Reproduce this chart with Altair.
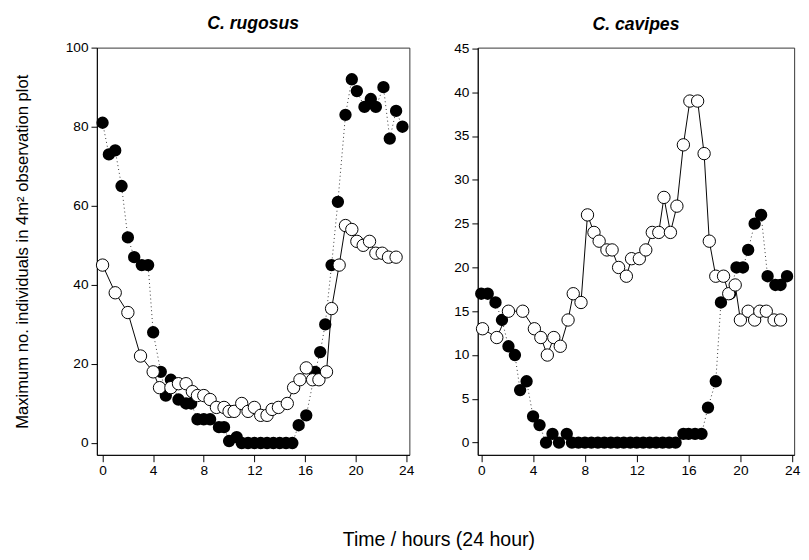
import altair as alt
import pandas as pd

# ---------------- data ----------------
HOUR_TICKS = [0, 4, 8, 12, 16, 20, 24]

# C. rugosus - filled symbols
RUG_F_T = [0, 0.5, 1.0, 1.5, 2.0, 2.5, 3.1, 3.6, 4.0, 4.6,
           5.0, 5.4, 6.0, 6.6, 7.0, 7.5, 8.0, 8.5, 9.2, 9.6,
           10.0, 10.6, 11.0, 11.5, 12.0, 12.5, 13.0, 13.5, 14.0, 14.5,
           15.0, 15.5, 16.1, 16.8, 17.2, 17.6, 18.1, 18.6, 19.2, 19.7,
           20.1, 20.7, 21.2, 21.6, 22.2, 22.7, 23.2, 23.7]
RUG_F_V = [81, 73, 74, 65, 52, 47, 45, 45, 28, 18,
           12, 16, 11, 10, 10, 6, 6, 6, 4, 4,
           0.5, 1.5, 0, 0, 0, 0, 0, 0, 0, 0,
           0, 4.5, 7, 18, 23, 30, 45, 61, 83, 92,
           89, 85, 87, 85, 90, 77, 84, 80]

# C. rugosus - open symbols
RUG_O_T = [0, 1, 2, 3, 4, 4.5, 5.4, 6.0, 6.6, 7.1,
           7.5, 8.0, 8.5, 9.0, 9.6, 10.0, 10.4, 11.0, 11.5, 12.0,
           12.5, 13.0, 13.4, 13.9, 14.6, 15.1, 15.6, 16.1, 16.6, 17.1,
           17.7, 18.1, 18.7, 19.2, 19.7, 20.1, 20.6, 21.1, 21.6, 22.1,
           22.6, 23.2]
RUG_O_V = [45, 38, 33, 22, 18, 14, 14, 15, 15, 13,
           12, 12, 11, 9, 9, 8, 8, 10, 8, 9,
           7, 7, 8.5, 9, 10, 14, 16, 19, 16, 16,
           18, 34, 45, 55, 54, 51, 50, 51, 48, 48,
           47, 47]

# C. cavipes - filled symbols
CAV_F_T = [0, 0.5, 1.1, 1.6, 2.1, 2.6, 3.0, 3.5, 4.0, 4.5,
           5.0, 5.5, 6.0, 6.6, 7.0, 7.5, 8.0, 8.5, 9.0, 9.5,
           10.0, 10.5, 11.0, 11.5, 12.0, 12.5, 13.0, 13.5, 14.0, 14.5,
           15.0, 15.6, 16.0, 16.5, 17.0, 17.5, 18.1, 18.5, 19.2, 19.7,
           20.2, 20.6, 21.1, 21.6, 22.1, 22.7, 23.1, 23.6]
CAV_F_V = [17, 17, 16, 14, 11, 10, 6, 7, 3, 2,
           0, 1, 0, 1, 0, 0, 0, 0, 0, 0,
           0, 0, 0, 0, 0, 0, 0, 0, 0, 0,
           0, 1, 1, 1, 1, 4, 7, 16, 17, 20,
           20, 22, 25, 26, 19, 18, 18, 19]

# C. cavipes - open symbols
CAV_O_T = [0.1, 1.2, 2.1, 3.2, 4.1, 4.6, 5.1, 5.6, 6.1, 6.7,
           7.1, 7.7, 8.2, 8.7, 9.1, 9.7, 10.1, 10.6, 11.2, 11.6,
           12.2, 12.7, 13.2, 13.7, 14.1, 14.6, 15.1, 15.6, 16.1, 16.7,
           17.2, 17.6, 18.1, 18.7, 19.1, 19.6, 20.0, 20.6, 21.1, 21.5,
           22.0, 22.6, 23.1]
CAV_O_V = [13, 12, 15, 15, 13, 12, 10, 12, 11, 14,
           17, 16, 26, 24, 23, 22, 22, 20, 19, 21,
           21, 22, 24, 24, 28, 24, 27, 34, 39, 39,
           33, 23, 19, 19, 17, 18, 14, 15, 14, 15,
           15, 14, 14]

FONT = "Liberation Sans"
Y_TITLE = "Maximum no. individuals in 4m\u00b2 observation plot"


def panel(title, ft, fv, ot, ov, xdom, ydom, yticks, ytitle, width, height):
    df_f = pd.DataFrame({"t": ft, "v": fv})
    df_o = pd.DataFrame({"t": ot, "v": ov})
    common = dict(grid=False, domainColor="black", tickColor="black",
                  labelColor="black", labelFont=FONT, labelFontSize=14,
                  domainWidth=1, tickWidth=1)
    x = alt.X("t:Q",
              scale=alt.Scale(domain=xdom, nice=False, zero=False),
              axis=alt.Axis(values=HOUR_TICKS, title=None, tickSize=7,
                            labelPadding=2, **common))
    yaxis_kw = dict(values=yticks, tickSize=6, labelPadding=3, **common)
    if ytitle:
        yaxis_kw.update(title=ytitle, titlePadding=35, titleFontSize=17,
                        titleFontWeight="normal", titleFont=FONT,
                        titleColor="black")
    else:
        yaxis_kw.update(title=None)
    y = alt.Y("v:Q",
              scale=alt.Scale(domain=ydom, nice=False, zero=False),
              axis=alt.Axis(**yaxis_kw))

    f_line = alt.Chart(df_f).mark_line(
        strokeDash=[1, 3], strokeWidth=1, color="#333333").encode(x=x, y=y)
    f_pts = alt.Chart(df_f).mark_point(
        shape="circle", filled=True, size=160, color="black",
        opacity=1).encode(x=x, y=y)
    o_line = alt.Chart(df_o).mark_line(
        strokeWidth=1, color="black").encode(x=x, y=y)
    o_pts = alt.Chart(df_o).mark_point(
        shape="circle", filled=True, size=160, fill="white",
        stroke="black", strokeWidth=1, opacity=1).encode(x=x, y=y)

    return alt.layer(f_line, f_pts, o_line, o_pts).properties(
        width=width, height=height,
        title=alt.TitleParams(title, fontSize=18, fontStyle="italic",
                              fontWeight="bold", font=FONT, offset=8,
                              anchor="middle", color="black"))


left = panel("C. rugosus", RUG_F_T, RUG_F_V, RUG_O_T, RUG_O_V,
             [-0.45, 24.25], [-3.0, 100], [0, 20, 40, 60, 80, 100],
             Y_TITLE, 320, 417)
right = panel("C. cavipes", CAV_F_T, CAV_F_V, CAV_O_T, CAV_O_V,
              [-0.27, 24.15], [-1.4, 45.1], [0, 5, 10, 15, 20, 25, 30, 35, 40, 45],
              None, 324, 417)

chart = alt.hconcat(left, right, spacing=38).properties(
    padding={"left": 5, "top": 0, "right": 0, "bottom": 0},
    background="white",
    title=alt.TitleParams("Time / hours (24 hour)", orient="bottom",
                          anchor="middle", fontSize=20, fontWeight="normal",
                          font=FONT, color="black", offset=54, dx=33),
).configure_view(
    stroke="#333333", strokeWidth=1
)

chart.save("out.html", embed_options={"renderer": "svg", "actions": False})
